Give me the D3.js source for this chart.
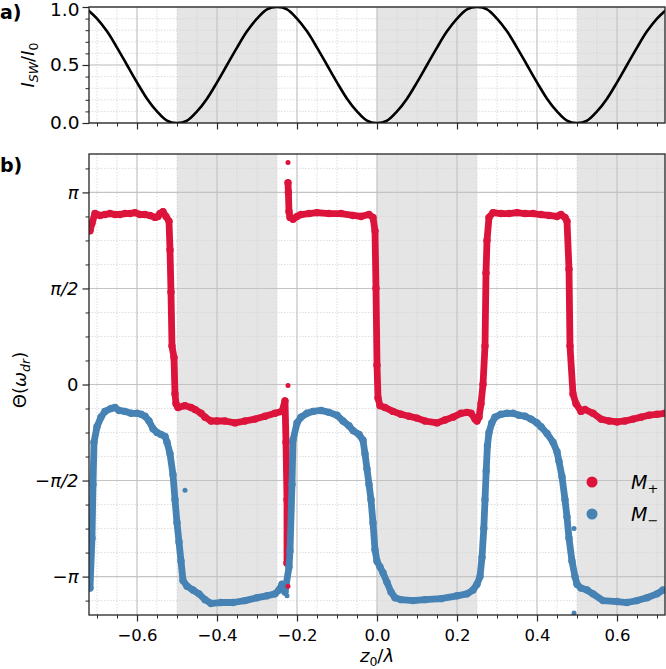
<!DOCTYPE html>
<html>
<head>
<meta charset="utf-8">
<script src="https://cdn.jsdelivr.net/npm/d3@7"></script>
<style>
  body { margin: 0; background: #fff; }
  text { font-family: "DejaVu Sans", sans-serif; }
</style>
</head>
<body>
<svg id="fig" width="666" height="669"></svg>
<script>
// ---- data ----
const shadedBands = [[-0.5, -0.25], [0, 0.25], [0.5, 0.75]];
const xMajorTicks = [-0.6, -0.4, -0.2, 0, 0.2, 0.4, 0.6];
const intensityTicks = [0, 0.5, 1];
const thetaTicks = [-1, -0.5, 0, 0.5, 1];           // in units of pi
const thetaTickLabels = ["−π", "−π/2", "0", "π/2", "π"];

// standing wave intensity I_SW/I_0 read along z0/lambda
const topZ = [-0.725, -0.7, -0.675, -0.65, -0.625, -0.6, -0.575, -0.55, -0.525, -0.5,
  -0.475, -0.45, -0.425, -0.4, -0.375, -0.35, -0.325, -0.3, -0.275, -0.25,
  -0.225, -0.2, -0.175, -0.15, -0.125, -0.1, -0.075, -0.05, -0.025, 0,
  0.025, 0.05, 0.075, 0.1, 0.125, 0.15, 0.175, 0.2, 0.225, 0.25,
  0.275, 0.3, 0.325, 0.35, 0.375, 0.4, 0.425, 0.45, 0.475, 0.5,
  0.525, 0.55, 0.575, 0.6, 0.625, 0.65, 0.675, 0.7, 0.725];
const topI = [0.98, 0.9, 0.79, 0.65, 0.5, 0.35, 0.21, 0.1, 0.02, 0,
  0.02, 0.1, 0.21, 0.35, 0.5, 0.65, 0.79, 0.9, 0.98, 1,
  0.98, 0.9, 0.79, 0.65, 0.5, 0.35, 0.21, 0.1, 0.02, 0,
  0.02, 0.1, 0.21, 0.35, 0.5, 0.65, 0.79, 0.9, 0.98, 1,
  0.98, 0.9, 0.79, 0.65, 0.5, 0.35, 0.21, 0.1, 0.02, 0,
  0.02, 0.1, 0.21, 0.35, 0.5, 0.65, 0.79, 0.9, 0.98];

// M+ phase (units of pi), two branches split by the wrap near z=-0.22
const mPlusA = [[-0.7175, 0.80], [-0.7125, 0.84], [-0.705, 0.89], [-0.6925, 0.88], [-0.68, 0.885],
  [-0.6675, 0.89], [-0.655, 0.885], [-0.6425, 0.885], [-0.63, 0.89], [-0.6175, 0.89],
  [-0.605, 0.895], [-0.5925, 0.885], [-0.58, 0.885], [-0.5675, 0.88], [-0.555, 0.87],
  [-0.5475, 0.875], [-0.5425, 0.89], [-0.535, 0.90], [-0.5275, 0.875], [-0.52, 0.85],
  [-0.5175, 0.70], [-0.515, 0.48], [-0.5125, 0.20], [-0.5075, 0.14], [-0.505, -0.05],
  [-0.5025, -0.10], [-0.4975, -0.12], [-0.48, -0.11], [-0.465, -0.12], [-0.455, -0.13],
  [-0.44, -0.15], [-0.43, -0.17], [-0.415, -0.19], [-0.40, -0.19], [-0.38, -0.19],
  [-0.355, -0.20], [-0.33, -0.19], [-0.305, -0.18], [-0.28, -0.165], [-0.255, -0.15],
  [-0.2375, -0.14], [-0.23, -0.085], [-0.2275, -0.30], [-0.225, -0.60], [-0.225, -0.93]];
const mPlusB = [[-0.2225, 1.05], [-0.2215, 1.0], [-0.22, 0.90], [-0.2175, 0.87], [-0.21, 0.86],
  [-0.20, 0.875], [-0.19, 0.885], [-0.17, 0.89], [-0.15, 0.895], [-0.12, 0.89],
  [-0.09, 0.89], [-0.06, 0.88], [-0.04, 0.875], [-0.02, 0.885], [-0.01, 0.87],
  [-0.005, 0.80], [-0.0025, 0.50], [0.0, 0.10], [0.0025, -0.07], [0.0075, -0.11],
  [0.02, -0.12], [0.04, -0.14], [0.06, -0.155], [0.08, -0.165], [0.10, -0.175],
  [0.12, -0.19], [0.15, -0.20], [0.17, -0.185], [0.19, -0.17], [0.21, -0.15],
  [0.225, -0.145], [0.235, -0.15], [0.245, -0.18], [0.25, -0.19], [0.255, -0.17],
  [0.26, -0.10], [0.265, 0.0], [0.27, 0.20], [0.2725, 0.58], [0.275, 0.75],
  [0.28, 0.87], [0.29, 0.895], [0.31, 0.89], [0.33, 0.89], [0.35, 0.895],
  [0.37, 0.89], [0.39, 0.89], [0.41, 0.885], [0.43, 0.88], [0.45, 0.875],
  [0.46, 0.885], [0.47, 0.87], [0.475, 0.85], [0.48, 0.60], [0.4825, 0.20],
  [0.49, -0.05], [0.4975, -0.10], [0.51, -0.14], [0.52, -0.13], [0.54, -0.15],
  [0.56, -0.18], [0.58, -0.19], [0.60, -0.195], [0.62, -0.19], [0.64, -0.18],
  [0.66, -0.17], [0.68, -0.16], [0.70, -0.155], [0.72, -0.15]];
const mPlusStray = [[-0.2225, 1.156], [-0.2225, -0.005], [-0.2225, -1.05]];

// M- phase (units of pi)
const mMinus = [[-0.7175, -1.06], [-0.7125, -0.80], [-0.71, -0.52], [-0.7075, -0.30], [-0.70, -0.22],
  [-0.69, -0.17], [-0.68, -0.14], [-0.665, -0.125], [-0.655, -0.12], [-0.645, -0.135],
  [-0.63, -0.14], [-0.615, -0.15], [-0.60, -0.15], [-0.59, -0.155], [-0.58, -0.165],
  [-0.57, -0.19], [-0.56, -0.23], [-0.55, -0.25], [-0.54, -0.26], [-0.53, -0.27],
  [-0.525, -0.30], [-0.5175, -0.36], [-0.51, -0.47], [-0.505, -0.60], [-0.50, -0.72],
  [-0.495, -0.82], [-0.49, -0.92], [-0.485, -1.02], [-0.475, -1.05], [-0.46, -1.07],
  [-0.445, -1.09], [-0.43, -1.12], [-0.415, -1.14], [-0.39, -1.135], [-0.36, -1.135],
  [-0.33, -1.125], [-0.30, -1.11], [-0.275, -1.10], [-0.255, -1.09], [-0.245, -1.07],
  [-0.2375, -1.04], [-0.23, -1.08], [-0.22, -0.95], [-0.2175, -0.865], [-0.2125, -0.52],
  [-0.21, -0.29], [-0.20, -0.20], [-0.19, -0.17], [-0.175, -0.15], [-0.16, -0.14],
  [-0.14, -0.135], [-0.12, -0.145], [-0.10, -0.16], [-0.085, -0.19], [-0.07, -0.215],
  [-0.06, -0.24], [-0.045, -0.26], [-0.035, -0.29], [-0.03, -0.36], [-0.025, -0.44],
  [-0.02, -0.52], [-0.015, -0.60], [-0.01, -0.72], [-0.005, -0.86], [0.0, -0.92],
  [0.0075, -0.95], [0.015, -0.98], [0.025, -1.03], [0.035, -1.08], [0.045, -1.11],
  [0.06, -1.12], [0.09, -1.125], [0.12, -1.12], [0.16, -1.115], [0.20, -1.10],
  [0.225, -1.09], [0.24, -1.07], [0.25, -1.04], [0.2575, -1.0], [0.2625, -0.90],
  [0.267, -0.75], [0.27, -0.60], [0.273, -0.45], [0.276, -0.32], [0.28, -0.25],
  [0.287, -0.20], [0.295, -0.17], [0.31, -0.155], [0.325, -0.15], [0.34, -0.15],
  [0.355, -0.16], [0.37, -0.165], [0.385, -0.18], [0.40, -0.20], [0.41, -0.22],
  [0.425, -0.255], [0.44, -0.30], [0.45, -0.35], [0.455, -0.40], [0.4625, -0.48],
  [0.47, -0.60], [0.475, -0.69], [0.48, -0.80], [0.4875, -0.92], [0.495, -1.0],
  [0.50, -1.04], [0.51, -1.06], [0.525, -1.07], [0.54, -1.09], [0.565, -1.125],
  [0.60, -1.13], [0.625, -1.135], [0.65, -1.125], [0.675, -1.11], [0.70, -1.09],
  [0.715, -1.07]];
const mMinusStray = [[-0.48, -0.55], [0.4925, -0.75], [0.4925, -1.19], [-0.225, -1.1]];

const red = "#dc143c";
const blue = "#4682b4";

// ---- layout ----
const svg = d3.select("#fig");
const left = 89, right = 665;
const x = d3.scaleLinear().domain([-0.72, 0.72]).range([left, right]);
const yTop = d3.scaleLinear().domain([0, 1]).range([123, 7]);
const yBot = d3.scaleLinear().domain([-1.2, 1.2]).range([615, 154]);

const drawPanel = (g, y, id, yMinor, yMajor) => {
  const [y0, y1] = y.range();
  g.append("clipPath").attr("id", id)
    .append("rect").attr("x", left).attr("y", y1).attr("width", right - left).attr("height", y0 - y1);

  g.selectAll(".band").data(shadedBands).join("rect")
    .attr("x", d => x(d[0]))
    .attr("width", d => Math.min(x(d[1]), right) - x(d[0]))
    .attr("y", y1).attr("height", y0 - y1)
    .attr("fill", "#e5e5e5");

  // minor grid
  g.selectAll(".vminor").data(d3.range(-0.7, 0.701, 0.05)).join("line")
    .attr("x1", d => x(d)).attr("x2", d => x(d)).attr("y1", y1).attr("y2", y0)
    .attr("stroke", "#d4d4d4").attr("stroke-width", 0.8).attr("stroke-dasharray", "1.5,1.5");
  g.selectAll(".hminor").data(yMinor).join("line")
    .attr("x1", left).attr("x2", right).attr("y1", d => y(d)).attr("y2", d => y(d))
    .attr("stroke", "#d4d4d4").attr("stroke-width", 0.8).attr("stroke-dasharray", "1.5,1.5");
  // major grid
  g.selectAll(".vmajor").data(xMajorTicks).join("line")
    .attr("x1", d => x(d)).attr("x2", d => x(d)).attr("y1", y1).attr("y2", y0)
    .attr("stroke", "#c4c4c4").attr("stroke-width", 1.1);
  g.selectAll(".hmajor").data(yMajor).join("line")
    .attr("x1", left).attr("x2", right).attr("y1", d => y(d)).attr("y2", d => y(d))
    .attr("stroke", "#c4c4c4").attr("stroke-width", 1.1);

  // minor ticks
  const xMinorAxis = d3.axisBottom(x).tickValues(d3.range(-0.7, 0.701, 0.05)).tickSize(3.5).tickFormat("");
  g.append("g").attr("transform", `translate(0,${y0})`).call(xMinorAxis);
  const yMinorAxis = d3.axisLeft(y).tickValues(yMinor).tickSize(3.5).tickFormat("");
  g.append("g").attr("transform", `translate(${left},0)`).call(yMinorAxis);
  g.selectAll(".domain").remove();
  g.selectAll(".tick line").attr("stroke", "#262626").attr("stroke-width", 1);
};

// ---- panel a ----
const ga = svg.append("g");
drawPanel(ga, yTop, "clipA", d3.range(0.1, 0.95, 0.1), intensityTicks);

const xa = ga.append("g").attr("transform", "translate(0,123)")
  .call(d3.axisBottom(x).tickValues(xMajorTicks).tickSize(6.5).tickFormat(""));
const ya = ga.append("g").attr("transform", `translate(${left},0)`)
  .call(d3.axisLeft(yTop).tickValues(intensityTicks).tickSize(6.5).tickPadding(3).tickFormat(d3.format(".1f")));

ga.append("path")
  .datum(topZ.map((z, i) => [z, topI[i]]))
  .attr("clip-path", "url(#clipA)")
  .attr("fill", "none").attr("stroke", "#000").attr("stroke-width", 2.6)
  .attr("d", d3.line().x(d => x(d[0])).y(d => yTop(d[1])).curve(d3.curveCatmullRom));

ga.append("rect").attr("x", left).attr("y", 7).attr("width", right - left).attr("height", 116)
  .attr("fill", "none").attr("stroke", "#262626").attr("stroke-width", 1.3);

// ---- panel b ----
const gb = svg.append("g");
drawPanel(gb, yBot, "clipB", d3.range(-1.125, 1.13, 0.125).filter(v => Math.abs(v * 2 - Math.round(v * 2)) > 1e-6), thetaTicks);

const xb = gb.append("g").attr("transform", "translate(0,615)")
  .call(d3.axisBottom(x).tickValues(xMajorTicks).tickSize(6.5).tickPadding(4).tickFormat(d3.format(".1f")));
const yb = gb.append("g").attr("transform", `translate(${left},0)`)
  .call(d3.axisLeft(yBot).tickValues(thetaTicks).tickSize(6.5).tickPadding(4).tickFormat((d, i) => thetaTickLabels[i]));

[xa, ya, xb, yb].forEach(a => {
  a.select(".domain").remove();
  a.selectAll(".tick line").attr("stroke", "#262626").attr("stroke-width", 1.2);
  a.selectAll(".tick text").attr("fill", "#000").style("font-size", "16.5px")
    .style("font-family", "'DejaVu Sans', sans-serif");
});
ya.selectAll(".tick text").style("font-size", "18.5px");
ya.selectAll(".tick text").filter(d => d === 1).attr("dy", "0.48em");
yb.selectAll(".tick text").style("font-size", "18px").style("font-style", "italic");
yb.selectAll(".tick text").filter(d => d === 0).style("font-style", "normal");
xb.selectAll(".tick text").attr("dy", "0.95em");

const data = gb.append("g").attr("clip-path", "url(#clipB)");
const phaseLine = d3.line().x(d => x(d[0])).y(d => yBot(d[1]));

const drawSeries = (pts, color) => {
  data.append("path").datum(pts)
    .attr("fill", "none").attr("stroke", color).attr("stroke-width", 6.8)
    .attr("stroke-linejoin", "round").attr("stroke-linecap", "round")
    .attr("d", phaseLine);
  data.append("g").selectAll("circle").data(pts).join("circle")
    .attr("cx", d => x(d[0])).attr("cy", d => yBot(d[1])).attr("r", 3.7).attr("fill", color);
};
drawSeries(mPlusA, red);
drawSeries(mPlusB, red);
drawSeries(mMinus, blue);

data.append("g").selectAll("circle").data(mPlusStray).join("circle")
  .attr("cx", d => x(d[0])).attr("cy", d => yBot(d[1])).attr("r", 2.5).attr("fill", red);
data.append("g").selectAll("circle").data(mMinusStray).join("circle")
  .attr("cx", d => x(d[0])).attr("cy", d => yBot(d[1])).attr("r", 2.5).attr("fill", blue);

gb.append("rect").attr("x", left).attr("y", 154).attr("width", right - left).attr("height", 461)
  .attr("fill", "none").attr("stroke", "#262626").attr("stroke-width", 1.3);

// ---- legend ----
const legend = svg.append("g").attr("transform", "translate(592,482)");
const legendItems = [{ color: red, sub: "+" }, { color: blue, sub: "−" }];
legendItems.forEach((item, i) => {
  legend.append("circle").attr("cx", 0).attr("cy", i * 32).attr("r", 5.5).attr("fill", item.color);
  const t = legend.append("text").attr("x", 39).attr("y", i * 32 + 7)
    .style("font-size", "19px").style("font-style", "italic").attr("fill", "#000");
  t.append("tspan").text("M");
  t.append("tspan").attr("dy", 4).style("font-size", "13px").style("font-style", "normal").text(item.sub);
});

// ---- labels ----
svg.append("text").attr("x", 0).attr("y", 19).style("font-size", "19px").style("font-weight", "bold").text("a)");
svg.append("text").attr("x", 0).attr("y", 172).style("font-size", "19px").style("font-weight", "bold").text("b)");

const ylabA = svg.append("text").attr("transform", "translate(34,65) rotate(-90)")
  .attr("text-anchor", "middle").style("font-size", "18px").style("font-style", "italic");
ylabA.append("tspan").text("I");
ylabA.append("tspan").attr("dy", 4).style("font-size", "12.5px").text("SW");
ylabA.append("tspan").attr("dy", -4).style("font-style", "normal").text("/");
ylabA.append("tspan").text("I");
ylabA.append("tspan").attr("dy", 4).style("font-size", "12.5px").style("font-style", "normal").text("0");

const ylabB = svg.append("text").attr("transform", "translate(26,380) rotate(-90)")
  .attr("text-anchor", "middle").style("font-size", "18px");
ylabB.append("tspan").text("Θ(");
ylabB.append("tspan").style("font-style", "italic").text("ω");
ylabB.append("tspan").attr("dy", 4).style("font-size", "12.5px").style("font-style", "italic").text("dr");
ylabB.append("tspan").attr("dy", -4).text(")");

const xlab = svg.append("text").attr("x", 377).attr("y", 662)
  .attr("text-anchor", "middle").style("font-size", "18px");
xlab.append("tspan").style("font-style", "italic").text("z");
xlab.append("tspan").attr("dy", 4).style("font-size", "12.5px").text("0");
xlab.append("tspan").attr("dy", -4).text("/");
xlab.append("tspan").style("font-style", "italic").text("λ");
</script>
</body>
</html>
